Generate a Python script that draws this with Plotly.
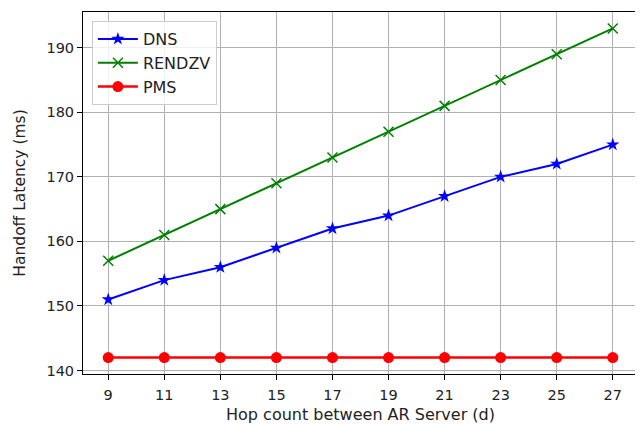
import plotly.graph_objects as go

hops = [9, 11, 13, 15, 17, 19, 21, 23, 25, 27]
dns = [151, 154, 156, 159, 162, 164, 167, 170, 172, 175]
rendzv = [157, 161, 165, 169, 173, 177, 181, 185, 189, 193]
pms = [142, 142, 142, 142, 142, 142, 142, 142, 142, 142]
y_ticks = [140, 150, 160, 170, 180, 190]

fig = go.Figure()
fig.add_trace(go.Scatter(x=hops, y=dns, name="DNS", mode="lines+markers",
                         line=dict(color="blue", width=2),
                         marker=dict(symbol="star", size=10, color="blue")))
fig.add_trace(go.Scatter(x=hops, y=rendzv, name="RENDZV", mode="lines+markers",
                         line=dict(color="green", width=2),
                         marker=dict(symbol="x-thin", size=10, color="green",
                                     line=dict(color="green", width=1.5))))
fig.add_trace(go.Scatter(x=hops, y=pms, name="PMS", mode="lines+markers",
                         line=dict(color="red", width=2.5),
                         marker=dict(symbol="circle", size=11, color="red")))

axis_common = dict(showgrid=True, gridcolor="#b0b0b0", gridwidth=1,
                   showline=True, linecolor="black", linewidth=1, mirror=True,
                   ticks="outside", ticklen=5, tickcolor="black",
                   zeroline=False, tickfont=dict(size=14.5, color="#222"))

# Page body has an 8px default margin; size the figure to fit the 643x425 window.
fig.update_layout(
    width=635, height=417,
    margin=dict(l=75, r=5, t=4, b=51),
    paper_bgcolor="white", plot_bgcolor="white",
    font=dict(family="DejaVu Sans", size=14, color="#222"),
    showlegend=True,
    legend=dict(x=0.016, y=0.975, xanchor="left", yanchor="top",
                bgcolor="rgba(255,255,255,0.8)", bordercolor="#cccccc", borderwidth=1,
                font=dict(size=16), tracegroupgap=0, itemwidth=40),
)
fig.update_xaxes(range=[8.1, 27.9], tickvals=hops, ticktext=[str(h) for h in hops],
                 ticklabelstandoff=3,
                 title=dict(text="Hop count between AR Server (d)", font=dict(size=16), standoff=6),
                 **axis_common)
fig.update_yaxes(range=[139.45, 195.55], tickvals=y_ticks,
                 title=dict(text="Handoff Latency (ms)", font=dict(size=15.5), standoff=16),
                 **axis_common)

fig.write_html("out.html")
